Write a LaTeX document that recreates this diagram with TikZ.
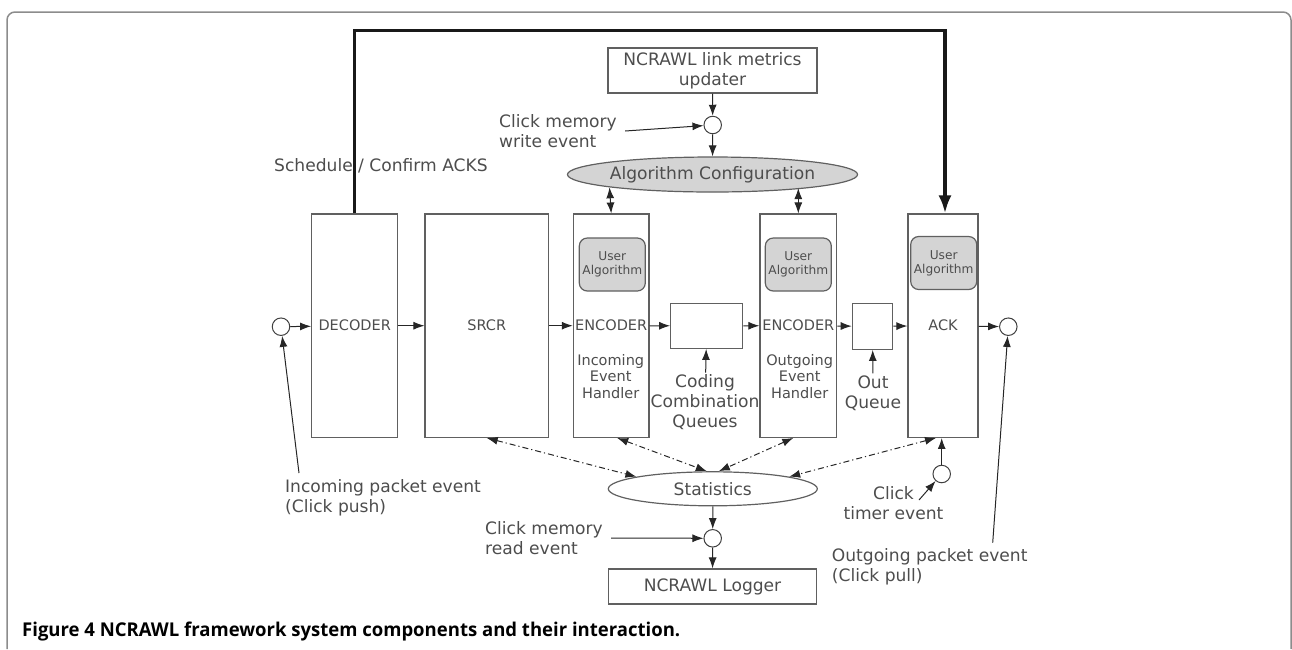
\documentclass[tikz,border=0pt]{standalone}
\usepackage{fontspec}
\setmainfont{DejaVu Sans}
\newfontfamily\capfont{Open Sans}
\usetikzlibrary{arrows.meta,shapes.geometric}
\definecolor{inkgray}{HTML}{4D4D4D}
\definecolor{linegray}{HTML}{606060}
\definecolor{fillgray}{HTML}{D4D4D4}
\definecolor{framegray}{HTML}{8C8C8C}

\begin{document}
\begin{tikzpicture}[x=1pt,y=-1pt,
    >={Latex[length=11pt,width=8pt]},
    blk/.style={draw=linegray,line width=1.2pt,inner sep=0pt,text=inkgray,font=\fontsize{14.5}{16.5}\selectfont},
    ualg/.style={draw=linegray,fill=fillgray,rounded corners=8pt,line width=1.2pt,minimum width=66pt,minimum height=53pt,inner sep=0pt,align=center,text=inkgray,font=\fontsize{12.2}{14.3}\selectfont},
    evt/.style={circle,draw=black!75,line width=1pt,minimum size=17.5pt,inner sep=0pt},
    lbl/.style={text=inkgray,align=left,inner sep=2pt,font=\fontsize{17.1}{20}\selectfont},
    arr/.style={->,draw=black!85,line width=1pt},
    dd/.style={<->,draw=black!85,line width=1pt,dash pattern=on 6pt off 3pt on 1.2pt off 3pt}]
    \useasboundingbox (0,0) rectangle (1292,649);
    \draw[framegray,line width=1.5pt,rounded corners=8pt] (7,649) -- (7,12) -- (1291,12) -- (1291,649);

    \node[blk,minimum width=86pt,minimum height=223.3pt] (dec) at (354.7,325.7) {DECODER};
    \node[blk,minimum width=123.3pt,minimum height=223.3pt] (srcr) at (486.7,325.7) {SRCR};
    \node[blk,minimum width=75.7pt,minimum height=223.3pt] (enc1) at (611.2,325.7) {ENCODER};
    \node[blk,minimum width=76.7pt,minimum height=223.3pt] (enc2) at (798.3,325.7) {ENCODER};
    \node[blk,minimum width=70pt,minimum height=223.3pt] (ack) at (943,325.7) {ACK};
    \node[blk,minimum width=72pt,minimum height=45pt] (ccq) at (706.7,325.8) {};
    \node[blk,minimum width=40.4pt,minimum height=46pt] (outq) at (872.5,326.3) {};
    \node[ualg] (ua1) at (612.3,264.5) {User\\Algorithm};
    \node[ualg] (ua2) at (798.3,264.5) {User\\Algorithm};
    \node[ualg] (ua3) at (943.7,263) {User\\Algorithm};
    \node[blk,draw=none,align=center] (hin) at (610.7,376.5) {Incoming\\Event\\Handler};
    \node[blk,draw=none,align=center] (hout) at (799.7,376.5) {Outgoing\\Event\\Handler};

    \node[blk,minimum width=209pt,minimum height=45pt,align=center,font=\fontsize{17.1}{20}\selectfont] (link) at (712.5,70.5) {NCRAWL link metrics\\updater};
    \node[evt] (wcirc) at (712.7,125) {};
    \node[ellipse,draw=linegray,fill=fillgray,line width=1.2pt,minimum width=235pt,minimum height=35pt,inner sep=0pt,text=inkgray,font=\fontsize{17.1}{20}\selectfont] (algconf) at (712.5,174.5) {Algorithm Configuration};
    \node[lbl,anchor=west] (lblwrite) at (497,131) {Click memory\\write event};
    \node[lbl,anchor=west] (lblsched) at (272,166) {Schedule / Confirm ACKS};

    \node[ellipse,draw=linegray,line width=1.2pt,minimum width=209pt,minimum height=34pt,inner sep=0pt,text=inkgray,font=\fontsize{17.1}{20}\selectfont] (stats) at (712.8,488.8) {Statistics};
    \node[evt] (rcirc) at (712.7,538.3) {};
    \node[blk,minimum width=208.4pt,minimum height=35pt,font=\fontsize{17.1}{20}\selectfont] (logger) at (712.5,586.5) {NCRAWL Logger};
    \node[lbl,anchor=west] (lblread) at (483,538) {Click memory\\read event};
    \node[lbl,anchor=west] (lblin) at (283,498) {Incoming packet event\\(Click push)};
    \node[lbl,align=center] (lbltimer) at (893.5,502.7) {Click\\timer event};
    \node[lbl,anchor=west] (lblout) at (829.7,566.5) {Outgoing packet event\\(Click pull)};
    \node[lbl,align=center] (lblccq) at (705,402.5) {Coding\\Combination\\Queues};
    \node[lbl,align=center] (lbloutq) at (873,393) {Out\\Queue};
    \node[evt] (in) at (281,326.7) {};
    \node[evt] (out) at (1008.3,326.7) {};
    \node[evt] (tcirc) at (941.7,474) {};

    \coordinate (top) at (354.7,30.7);
    \coordinate (infoot) at (299,473);
    \coordinate (outfoot) at (992.7,542.7);
    \coordinate (timerfoot) at (919,500);

    \draw[line width=3.5pt,draw=black!90,-{Latex[length=18pt,width=13pt]}] (dec.north) -- (top) -| ([xshift=2pt]ack.north);
    \draw[arr] (in) -- (dec);
    \draw[arr] (dec) -- (srcr);
    \draw[arr] (srcr) -- (enc1);
    \draw[arr] (enc1) -- (ccq);
    \draw[arr] (ccq) -- (enc2);
    \draw[arr] (enc2) -- (outq);
    \draw[arr] (outq) -- (ack);
    \draw[arr] (ack) -- (out);
    \draw[arr] (link) -- (wcirc);
    \draw[arr] (wcirc) -- (algconf);
    \draw[arr] ([xshift=6pt]lblwrite.east) -- (wcirc);
    \draw[dd] (algconf.south west) -- (enc1.north);
    \draw[dd] (algconf.352 -| enc2.north) -- (enc2.north);
    \draw[dd] (srcr.south) -- (stats.171);
    \draw[dd] ([xshift=6pt]enc1.south) -- ([xshift=-6pt]stats.north);
    \draw[dd] ([xshift=-5pt]enc2.south) -- ([xshift=6pt]stats.north);
    \draw[dd] ([xshift=-7pt]ack.south) -- (stats.9);
    \draw[arr] (stats) -- (rcirc);
    \draw[arr] (rcirc) -- (logger);
    \draw[arr] ([xshift=6pt]lblread.east) -- (rcirc);
    \draw[arr] (infoot) -- (in);
    \draw[arr] (outfoot) -- (out);
    \draw[arr] (timerfoot) -- (tcirc);
    \draw[arr] (tcirc) -- (tcirc |- ack.south);
    \draw[arr] (lblccq) -- (ccq);
    \draw[arr] (lbloutq) -- (outq);

    \node[anchor=base west,inner sep=0pt,font=\capfont\bfseries\fontsize{19}{22}\selectfont] (caption) at (22,636) {\resizebox{658pt}{\height}{Figure 4 NCRAWL framework system components and their interaction.}};
\end{tikzpicture}
\end{document}
